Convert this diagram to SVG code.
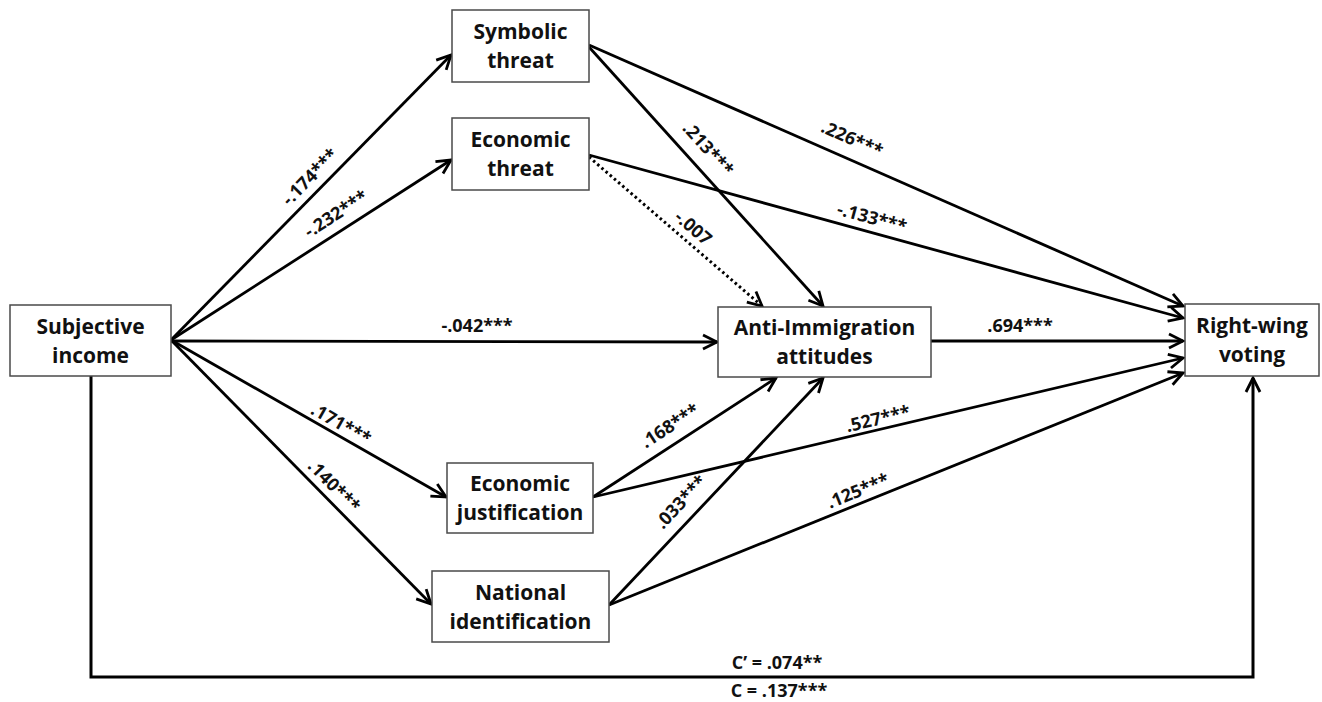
<svg xmlns="http://www.w3.org/2000/svg" width="1322" height="702" viewBox="0 0 1322 702">
<style>
.box{fill:#fff;stroke:#4a4a4a;stroke-width:1.5}
.nt{font-family:"Open Sans","Liberation Sans",Arial,sans-serif;font-weight:bold;font-size:21px;fill:#111;text-anchor:middle}
.lb{font-family:"Open Sans","Liberation Sans",Arial,sans-serif;font-weight:bold;font-size:18px;fill:#111;text-anchor:middle}
.ln{fill:none;stroke:#000;stroke-width:2.8;marker-end:url(#arr)}
.dot{stroke-dasharray:2.5,3;stroke-width:3}
</style>
<defs>
<marker id="arr" viewBox="0 0 18 18" refX="16" refY="9" markerWidth="18" markerHeight="18" markerUnits="userSpaceOnUse" orient="auto">
<path d="M2,2 L16,9 L2,16" fill="none" stroke="#000" stroke-width="2.8" stroke-linejoin="miter"/>
</marker>
</defs>
<rect width="1322" height="702" fill="#fff"/>
<g id="connectors">
<path class="ln" d="M171,340 L451,55"/>
<path class="ln" d="M171,340 L451,160"/>
<path class="ln" d="M171,341 L717,342"/>
<path class="ln" d="M171,340 L446,497"/>
<path class="ln" d="M171,340 L431,604"/>
<path class="ln" d="M589,45 L1183,306"/>
<path class="ln" d="M589,47 L823,306"/>
<path class="ln" d="M589,155 L1183,318"/>
<path class="ln dot" d="M589,157 L762,306"/>
<path class="ln" d="M931,341 L1183,341"/>
<path class="ln" d="M593,497 L776,378"/>
<path class="ln" d="M593,497 L1183,358"/>
<path class="ln" d="M609,605 L823,378"/>
<path class="ln" d="M609,605 L1183,373"/>
<path class="ln" style="stroke-width:3" d="M91,376 L91,677 L1253,677 L1253,378"/>
<text class="lb" transform="translate(310,177) rotate(-45.5)" y="6">-.174***</text>
<text class="lb" transform="translate(336,214) rotate(-32.7)" y="6">-.232***</text>
<text class="lb" x="477" y="332">-.042***</text>
<text class="lb" transform="translate(341,424) rotate(29.7)" y="6">.171***</text>
<text class="lb" transform="translate(334,486) rotate(45.4)" y="6">.140***</text>
<text class="lb" transform="translate(852,139) rotate(23.7)" y="6">.226***</text>
<text class="lb" transform="translate(708,149) rotate(47.8)" y="6">.213***</text>
<text class="lb" transform="translate(872,218) rotate(15.3)" y="6">-.133***</text>
<text class="lb" transform="translate(693,228) rotate(40.7)" y="6">-.007</text>
<text class="lb" x="1020" y="332">.694***</text>
<text class="lb" transform="translate(670,426) rotate(-33)" y="6">.168***</text>
<text class="lb" transform="translate(878,419) rotate(-13.3)" y="6">.527***</text>
<text class="lb" transform="translate(681,502) rotate(-46.7)" y="6">.033***</text>
<text class="lb" transform="translate(858,491) rotate(-22)" y="6">.125***</text>
<text class="lb" x="777" y="669">C’ = .074**</text>
<text class="lb" x="779" y="697">C = .137***</text>
</g>
<g id="subjective-income">
<rect class="box" x="10" y="305" width="161" height="71"/>
<text class="nt" x="90.5" y="334">Subjective</text>
<text class="nt" x="90.5" y="363">income</text>
</g>
<g id="symbolic-threat">
<rect class="box" x="452" y="10" width="137" height="72"/>
<text class="nt" x="520.5" y="39">Symbolic</text>
<text class="nt" x="520.5" y="68">threat</text>
</g>
<g id="economic-threat">
<rect class="box" x="452" y="118" width="137" height="72"/>
<text class="nt" x="520.5" y="147">Economic</text>
<text class="nt" x="520.5" y="176">threat</text>
</g>
<g id="anti-immigration">
<rect class="box" x="718" y="307" width="213" height="70"/>
<text class="nt" x="824.5" y="335">Anti-Immigration</text>
<text class="nt" x="824.5" y="364">attitudes</text>
</g>
<g id="right-wing-voting">
<rect class="box" x="1185" y="304" width="134" height="72"/>
<text class="nt" x="1252" y="333">Right-wing</text>
<text class="nt" x="1252" y="362">voting</text>
</g>
<g id="economic-justification">
<rect class="box" x="447" y="463" width="146" height="70"/>
<text class="nt" x="520" y="491">Economic</text>
<text class="nt" x="520" y="520">justification</text>
</g>
<g id="national-identification">
<rect class="box" x="432" y="571" width="177" height="71"/>
<text class="nt" x="520.5" y="600">National</text>
<text class="nt" x="520.5" y="629">identification</text>
</g>
</svg>
